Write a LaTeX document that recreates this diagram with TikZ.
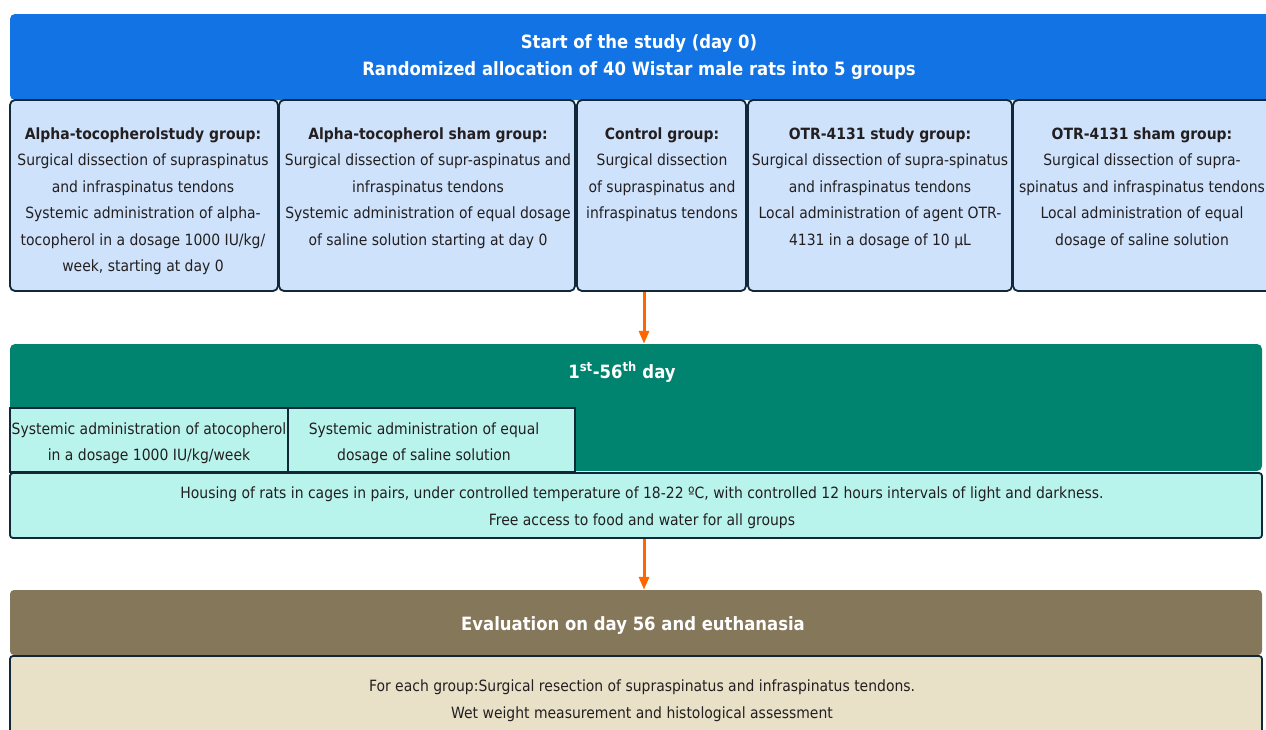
\documentclass[tikz,border=0pt]{standalone}
\usepackage{fontspec}
\setmainfont{DejaVu Sans}[FakeStretch=0.9]
\usetikzlibrary{arrows.meta,positioning}

\definecolor{startblue}{RGB}{18,115,228}
\definecolor{groupfill}{RGB}{206,226,251}
\definecolor{edgenavy}{RGB}{16,40,56}
\definecolor{flowgreen}{RGB}{0,132,111}
\definecolor{mintfill}{RGB}{185,244,236}
\definecolor{evalbrown}{RGB}{133,119,89}
\definecolor{beigefill}{RGB}{232,225,200}
\definecolor{arroworange}{RGB}{255,102,0}
\definecolor{bodytext}{RGB}{35,31,32}

\newcommand{\bodyfont}{\fontsize{15.5}{26.5}\selectfont}
\newcommand{\headfont}{\fontsize{18.3}{27}\selectfont\bfseries}

\begin{document}
\begin{tikzpicture}[
    x=1pt, y=-1pt,
    band/.style={rounded corners=5pt, inner sep=0pt},
    grpbox/.style={draw=edgenavy, line width=1.8pt, fill=groupfill, rounded corners=5pt, inner sep=0pt, minimum height=191pt},
    subbox/.style={draw=edgenavy, line width=1.8pt, fill=mintfill, inner sep=0pt},
    bodytxt/.style={font=\bodyfont, text=bodytext, align=center, inner sep=0pt},
    headtxt/.style={font=\headfont, text=white, align=center, inner sep=0pt},
    flow/.style={draw=arroworange, line width=3pt, -{Triangle[length=13pt, width=10pt]}}
]
    \useasboundingbox (0,0) rectangle (1266,729);

    % start of the study
    \node[band, fill=startblue, minimum width=1262pt, minimum height=86pt] (start) at (641,57) {};
    \node[headtxt] (starttxt) at (639,57.5) {Start of the study (day 0)\\Randomized allocation of 40 Wistar male rats into 5 groups};

    % five groups
    \node[grpbox, minimum width=268pt] (g1) at (144,195.5) {};
    \node[grpbox, minimum width=296pt] (g2) at (427,195.5) {};
    \node[grpbox, minimum width=169pt] (g3) at (661.5,195.5) {};
    \node[grpbox, minimum width=264pt] (g4) at (880,195.5) {};
    \node[grpbox, minimum width=262pt] (g5) at (1144,195.5) {};

    \node[bodytxt, anchor=north] (g1txt) at (143,127.5) {\textbf{Alpha-tocopherolstudy group:}\\Surgical dissection of supraspinatus\\and infraspinatus tendons\\Systemic administration of alpha-\\tocopherol in a dosage 1000 IU/kg/\\week, starting at day 0};
    \node[bodytxt, anchor=north] (g2txt) at (428,127.5) {\textbf{Alpha-tocopherol sham group:}\\Surgical dissection of supr-aspinatus and\\infraspinatus tendons\\Systemic administration of equal dosage\\of saline solution starting at day 0};
    \node[bodytxt, anchor=north] (g3txt) at (662,127.5) {\textbf{Control group:}\\Surgical dissection\\of supraspinatus and\\infraspinatus tendons};
    \node[bodytxt, anchor=north] (g4txt) at (880,127.5) {\textbf{OTR-4131 study group:}\\Surgical dissection of supra-spinatus\\and infraspinatus tendons\\Local administration of agent OTR-\\4131 in a dosage of 10 µL};
    \node[bodytxt, anchor=north] (g5txt) at (1142,127.5) {\textbf{OTR-4131 sham group:}\\Surgical dissection of supra-\\spinatus and infraspinatus tendons\\Local administration of equal\\dosage of saline solution};

    % 1st-56th day
    \node[band, fill=flowgreen, minimum width=1252pt, minimum height=127pt] (period) at (636,407.5) {};
    \node[headtxt] (periodtxt) at (622,372) {1\textsuperscript{st}-56\textsuperscript{th} day};

    \node[subbox, minimum width=278pt, minimum height=64pt] (subA) at (149,440) {};
    \node[subbox, minimum width=287pt, minimum height=64pt] (subB) at (431.5,440) {};
    \node[bodytxt] (subAtxt) at (149,443) {Systemic administration of atocopherol\\in a dosage 1000 IU/kg/week};
    \node[bodytxt] (subBtxt) at (424,443) {Systemic administration of equal\\dosage of saline solution};

    \node[subbox, rounded corners=3pt, minimum width=1252pt, minimum height=65pt] (housing) at (636,505.5) {};
    \node[bodytxt] (housingtxt) at (642,507.5) {Housing of rats in cages in pairs, under controlled temperature of 18-22 ºC, with controlled 12 hours intervals of light and darkness.\\Free access to food and water for all groups};

    % evaluation
    \node[band, rounded corners=4pt, fill=evalbrown, minimum width=1252pt, minimum height=65pt] (evalhead) at (636,622.5) {};
    \node[headtxt] (evalheadtxt) at (633,625.5) {Evaluation on day 56 and euthanasia};

    \node[subbox, fill=beigefill, rounded corners=3pt, minimum width=1252pt, minimum height=89pt] (evalbody) at (636,700.5) {};
    \node[bodytxt] (evalbodytxt) at (642,700.5) {For each group:Surgical resection of supraspinatus and infraspinatus tendons.\\Wet weight measurement and histological assessment};

    % arrows
    \coordinate (axis) at (644,0);
    \draw[flow] (axis |- g3.south) -- (axis |- period.north);
    \draw[flow] (axis |- housing.south) -- (axis |- evalhead.north);
\end{tikzpicture}
\end{document}
